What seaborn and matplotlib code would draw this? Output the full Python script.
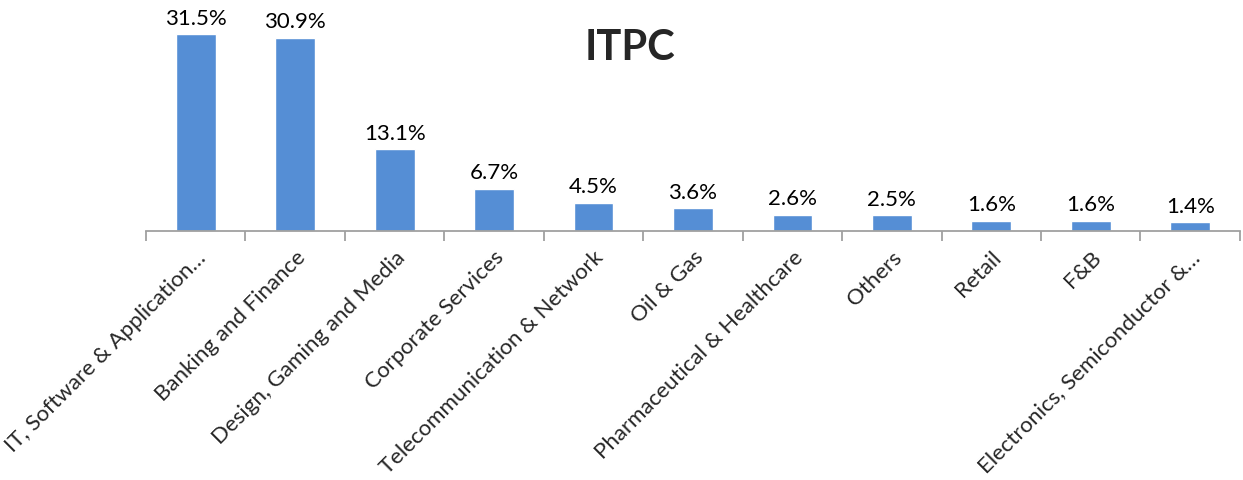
import matplotlib
matplotlib.use("Agg")
import matplotlib.pyplot as plt
import seaborn as sns
import pandas as pd

categories = ["IT, Software & Application…", "Banking and Finance", "Design, Gaming and Media",
              "Corporate Services", "Telecommunication & Network", "Oil & Gas",
              "Pharmaceutical & Healthcare", "Others", "Retail", "F&B",
              "Electronics, Semiconductor &…"]
shares = [31.5, 30.9, 13.1, 6.7, 4.5, 3.6, 2.6, 2.5, 1.6, 1.6, 1.4]

sns.set_style("white")
plt.rcParams['font.family'] = ['Lato', 'DejaVu Sans']

df = pd.DataFrame({'cat': categories, 'share': shares})

fig = plt.figure(figsize=(12.43, 4.8), dpi=100)
ax = fig.add_axes([0.1175, 0.519, 0.88, 0.455])
sns.barplot(data=df, x='cat', y='share', color='#558ED5', saturation=1, width=0.4, ax=ax)

for i, v in enumerate(shares):
    ax.text(i, v + 0.9, f'{v:.1f}%', ha='center', va='bottom', fontsize=16, color='black')

ax.set_xlim(-0.5, len(categories) - 0.5)
ax.set_ylim(0, 35)
ax.set_yticks([])
ax.set_xlabel('')
ax.set_ylabel('')
for s in ['top', 'right', 'left']:
    ax.spines[s].set_visible(False)
ax.spines['bottom'].set_color('#A0A0A0')
ax.spines['bottom'].set_linewidth(1.3)

# ticks at category boundaries, labels at centres
ax.set_xticks([i - 0.5 for i in range(len(categories) + 1)])
ax.set_xticklabels([])
ax.tick_params(axis='x', which='major', length=7, width=1.3, color='#A0A0A0', direction='out', bottom=True)
ax.set_xticks(range(len(categories)), minor=True)
ax.set_xticklabels(categories, minor=True, rotation=45, ha='right', va='top',
                   rotation_mode='anchor', fontsize=16)
ax.tick_params(axis='x', which='minor', length=0, pad=12)

fig.text(0.507, 0.9, 'ITPC', ha='center', va='center', fontsize=30, fontweight='bold')

fig.savefig('out.png', dpi=100)
